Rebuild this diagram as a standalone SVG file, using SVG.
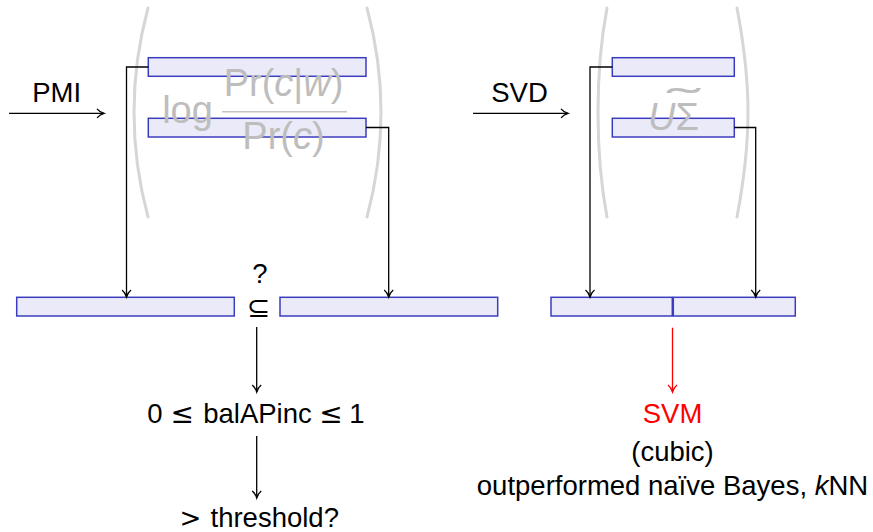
<svg xmlns="http://www.w3.org/2000/svg" width="873" height="532" viewBox="0 0 873 532">
<style>
.bar{fill:#eaeaf8;stroke:#3c3cbf;stroke-width:1.5}
.par{fill:none;stroke:#d6d6d6;stroke-width:3;stroke-linecap:round}
.gray{fill:#bdbdbd;font-family:"Liberation Sans",Arial,sans-serif;font-size:38px}
.lbl{fill:#000;font-family:"Liberation Sans",Arial,sans-serif;font-size:27.5px}
.sym{font-family:"DejaVu Sans",sans-serif}
.con{fill:none;stroke:#000;stroke-width:1.3}
.red{stroke:#ff0000}
.it{font-style:italic}
</style>
<defs>
<marker id="arr" markerUnits="userSpaceOnUse" markerWidth="12" markerHeight="12" viewBox="-9 -6 11 12" refX="0" refY="0" orient="auto">
<path d="M-7,-4.5 C-5,-2 -2,-0.6 0,0 C-2,0.6 -5,2 -7,4.5" fill="none" stroke="#000" stroke-width="1.3"/>
</marker>
<marker id="arrR" markerUnits="userSpaceOnUse" markerWidth="12" markerHeight="12" viewBox="-9 -6 11 12" refX="0" refY="0" orient="auto">
<path d="M-7,-4.5 C-5,-2 -2,-0.6 0,0 C-2,0.6 -5,2 -7,4.5" fill="none" stroke="#ff0000" stroke-width="1.3"/>
</marker>
</defs>

<g id="pmi-row1"><rect class="bar" x="148.3" y="57.7" width="217.7" height="18.6"/></g>
<g id="pmi-row2"><rect class="bar" x="148.3" y="118.3" width="217.7" height="18.7"/></g>
<g id="svd-row1"><rect class="bar" x="612.3" y="57.7" width="122" height="18.6"/></g>
<g id="svd-row2"><rect class="bar" x="612.3" y="118.3" width="122" height="18.7"/></g>

<g id="pmi-matrix">
<path class="par" d="M148,8 C138,45 134,80 134,112 C134,145 138,180 148,217"/>
<path class="par" d="M367,8 C377,45 381,80 381,112 C381,145 377,180 367,217"/>
<text class="gray" x="187.5" y="123" text-anchor="middle">log</text>
<text class="gray" x="283.5" y="96" text-anchor="middle">Pr(<tspan class="it">c</tspan>|<tspan class="it">w</tspan>)</text>
<line x1="222" y1="111.7" x2="347" y2="111.7" stroke="#c4c4c4" stroke-width="1.4"/>
<text class="gray" x="283.5" y="149" text-anchor="middle">Pr(<tspan class="it">c</tspan>)</text>
</g>

<g id="svd-matrix">
<path class="par" d="M607,8 C600,45 598,80 598,112 C598,145 600,180 607,217"/>
<path class="par" d="M737,8 C744,45 748,80 748,112 C748,145 744,180 737,217"/>
<text class="gray" x="648" y="130" font-size="36"><tspan class="it">U</tspan>Σ</text>
<text class="gray" transform="translate(684,116) scale(2.6,1)" font-size="36" text-anchor="middle">˜</text>
</g>

<g id="label-pmi"><text class="lbl" x="56.7" y="102" text-anchor="middle">PMI</text></g>
<g id="label-svd"><text class="lbl" x="519.5" y="102" text-anchor="middle">SVD</text></g>

<g id="vec-w"><rect class="bar" x="16.7" y="297.3" width="217.6" height="18.7"/></g>
<g id="vec-c"><rect class="bar" x="280" y="297.3" width="217.7" height="18.7"/></g>
<g id="subset">
<text class="lbl" x="260" y="283" font-size="20.5" text-anchor="middle">?</text>
<text class="sym" x="258.6" y="317" font-size="28" text-anchor="middle">⊆</text>
</g>
<g id="svd-vec-w"><rect class="bar" x="551" y="297.3" width="121.3" height="18.7"/></g>
<g id="svd-vec-c"><rect class="bar" x="673.3" y="297.3" width="122" height="18.7"/></g>

<g id="balapinc"><text class="lbl" y="423" text-anchor="middle"><tspan x="155">0</tspan><tspan class="sym" x="182.3" font-size="28">≤</tspan><tspan x="257.5">balAPinc</tspan><tspan class="sym" x="331" font-size="28">≤</tspan><tspan x="357">1</tspan></text></g>
<g id="threshold"><text class="lbl" y="527"><tspan class="sym" x="190.5" text-anchor="middle" font-size="26">&gt;</tspan><tspan x="210.5">threshold?</tspan></text></g>
<g id="svm">
<text class="lbl" x="672.5" y="423" text-anchor="middle" style="fill:#ff0000">SVM</text>
<text class="lbl" x="672.5" y="460.5" text-anchor="middle">(cubic)</text>
<text class="lbl" x="672.5" y="495" text-anchor="middle">outperformed naïve Bayes, <tspan class="it">k</tspan>NN</text>
</g>

<g id="connectors">
<line class="con" x1="9" y1="113.3" x2="104" y2="113.3" marker-end="url(#arr)"/>
<line class="con" x1="473" y1="113.3" x2="568" y2="113.3" marker-end="url(#arr)"/>
<polyline class="con" points="148.3,67 126.5,67 126.5,297" marker-end="url(#arr)"/>
<polyline class="con" points="366,127.5 388.7,127.5 388.7,297" marker-end="url(#arr)"/>
<polyline class="con" points="612.3,67 590,67 590,297" marker-end="url(#arr)"/>
<polyline class="con" points="734.3,127.5 755.7,127.5 755.7,297" marker-end="url(#arr)"/>
<line class="con" x1="256.7" y1="327" x2="256.7" y2="392" marker-end="url(#arr)"/>
<line class="con" x1="256.7" y1="436" x2="256.7" y2="498" marker-end="url(#arr)"/>
<line class="con red" x1="672.5" y1="327.7" x2="672.5" y2="392" marker-end="url(#arrR)"/>
</g>
</svg>
